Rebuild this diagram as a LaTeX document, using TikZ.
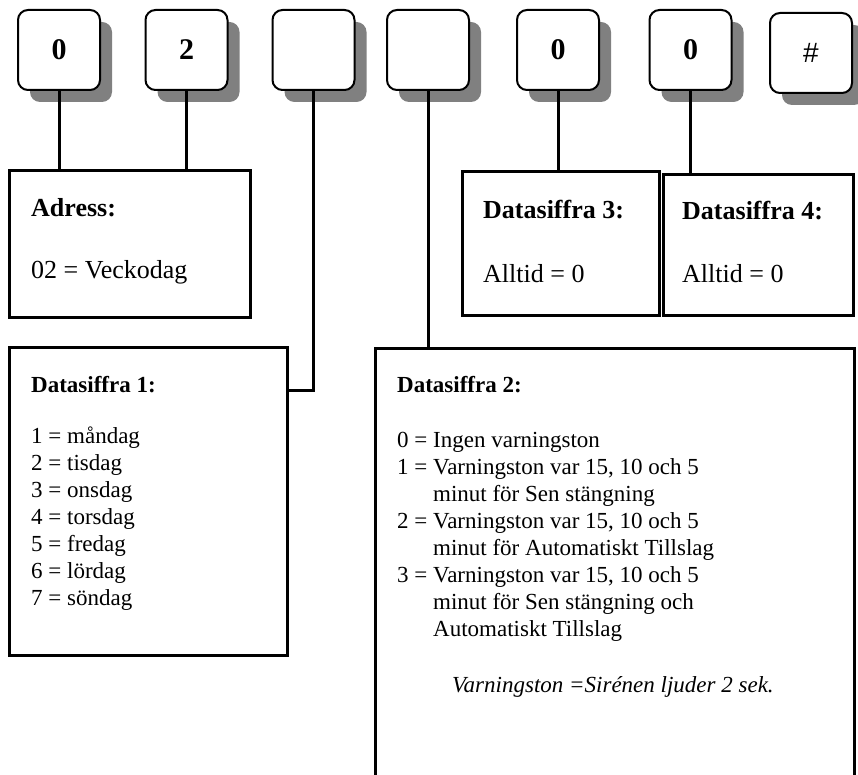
\documentclass[tikz,border=0pt]{standalone}
\usepackage{fontspec}
\setmainfont{Liberation Serif}
\newfontfamily\hashfont{Liberation Sans}
\usetikzlibrary{shadows}
\begin{document}
\begin{tikzpicture}[x=1pt,y=-1pt,
 key/.style={draw, line width=2pt, rounded corners=10pt, fill=white,
   minimum width=82pt, minimum height=80pt, inner sep=0pt, outer sep=0pt,
   font=\fontsize{30}{32}\selectfont\bfseries,
   drop shadow={shadow xshift=12pt, shadow yshift=-12pt, fill=black!50, opacity=1}},
 box/.style={draw, line width=3pt, anchor=north west, inner sep=0pt, outer sep=0pt},
 conn/.style={line width=3pt},
 txtbig/.style={anchor=base west, inner sep=0pt, font=\fontsize{26}{28}\selectfont},
 txtsm/.style={anchor=base west, inner sep=0pt, font=\fontsize{23}{27}\selectfont}]
\useasboundingbox (0,0) rectangle (858,775);
% keys
\node[key] (k1) at (59,50) {0};
\node[key] (k2) at (186.5,50) {2};
\node[key] (k3) at (313.5,50) {};
\node[key] (k4) at (428,50) {};
\node[key] (k5) at (558,50) {0};
\node[key] (k6) at (690.5,50) {0};
\node[key, font=\fontsize{28}{30}\selectfont\hashfont] (k7) at (811,53) {\#};
% boxes
\node[box, minimum width=241pt, minimum height=146pt] (adr) at (9,171) {};
\node[box, minimum width=197pt, minimum height=143pt] (d3) at (462,172) {};
\node[box, minimum width=190pt, minimum height=140pt] (d4) at (663,175) {};
\node[box, minimum width=278pt, minimum height=308pt] (d1) at (9,347) {};
\draw[conn] (375,776) -- (375,348) -- (854,348) -- (854,776);
\coordinate (d2top) at (428,348);
\coordinate (d1c) at (287,390);
% connectors
\draw[conn] (k1.south) -- (k1.south |- adr.north);
\draw[conn] (k2.south) -- (k2.south |- adr.north);
\draw[conn] (k5.south) -- (k5.south |- d3.north);
\draw[conn] (k6.south) -- (k6.south |- d4.north);
\draw[conn] (k4.south) -- (d2top);
\draw[conn] (k3.south) |- (d1c);
% texts
\node[txtbig, font=\fontsize{26}{28}\selectfont\bfseries] (t1) at (31,217) {Adress:};
\node[txtbig] (t2) at (31,278) {02 = Veckodag};
\node[txtbig, font=\fontsize{26}{28}\selectfont\bfseries] (t3) at (483,219) {Datasiffra 3:};
\node[txtbig] (t4) at (483,282) {Alltid = 0};
\node[txtbig, font=\fontsize{26}{28}\selectfont\bfseries] (t5) at (682,220) {Datasiffra 4:};
\node[txtbig] (t6) at (682,283) {Alltid = 0};
\node[txtsm, font=\fontsize{23}{27}\selectfont\bfseries] (t7) at (31,392) {Datasiffra 1:};
\node[txtsm] (t8) at (31,443) {\begin{tabular}[t]{@{}l@{}}
1 = måndag\\2 = tisdag\\3 = onsdag\\4 = torsdag\\5 = fredag\\6 = lördag\\7 = söndag\end{tabular}};
\node[txtsm, font=\fontsize{23}{27}\selectfont\bfseries] (t9) at (397,392) {Datasiffra 2:};
\node[txtsm] (t10) at (397,447) {\begin{tabular}[t]{@{}l@{}}
0 = Ingen varningston\\
1 = Varningston var 15, 10 och 5\\
\phantom{1 = }minut för Sen stängning\\
2 = Varningston var 15, 10 och 5\\
\phantom{2 = }minut för Automatiskt Tillslag\\
3 = Varningston var 15, 10 och 5\\
\phantom{3 = }minut för Sen stängning och\\
\phantom{3 = }Automatiskt Tillslag\end{tabular}};
\node[txtsm, font=\fontsize{23}{27}\selectfont\itshape] (t11) at (452,692) {Varningston =Sirénen ljuder 2 sek.};
\end{tikzpicture}
\end{document}
